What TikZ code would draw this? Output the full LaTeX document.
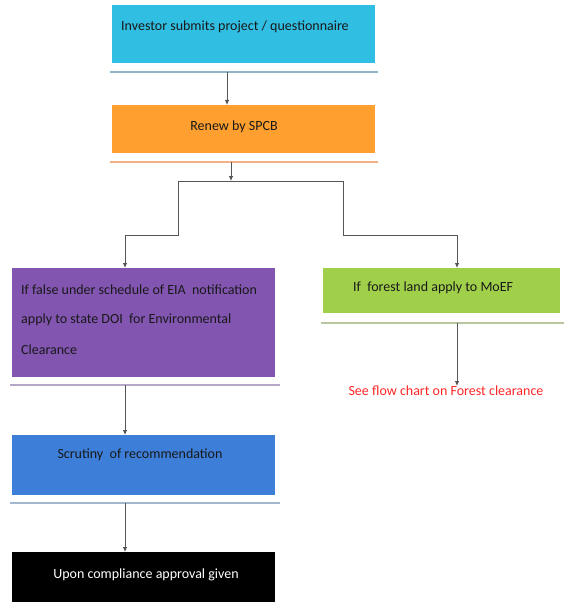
\documentclass[tikz,border=0pt]{standalone}
\usepackage{fontspec}
\setmainfont{Carlito}
\usetikzlibrary{arrows.meta}
\definecolor{ccyan}{HTML}{31BEE3}
\definecolor{corange}{HTML}{FF9F2F}
\definecolor{cpurple}{HTML}{8255B0}
\definecolor{cgreen}{HTML}{A0D04A}
\definecolor{cblue}{HTML}{3D7FD8}
\definecolor{ucyan}{HTML}{8FB4C6}
\definecolor{uorange}{HTML}{F4B184}
\definecolor{upurple}{HTML}{B4A7C8}
\definecolor{ugreen}{HTML}{B8C7A0}
\definecolor{ublue}{HTML}{A3B7CF}
\definecolor{cred}{HTML}{FF2626}
\definecolor{cline}{HTML}{555555}
\tikzset{
  box/.style={rectangle, inner sep=0pt, outer sep=0pt, draw=none},
  txt/.style={font=\fontsize{14}{16}\selectfont, inner sep=0pt, text=black!90},
  uline/.style={line width=2.5pt},
  conn/.style={draw=cline, line width=0.8pt},
  arr/.style={conn, -{Latex[length=5pt,width=4.5pt]}}
}
\begin{document}
\begin{tikzpicture}[x=1pt,y=-1pt]
\useasboundingbox (0,0) rectangle (564,607);
% boxes
\fill[ccyan] (112,5) rectangle (375,63);
\node[box, minimum width=263pt, minimum height=58pt] (b1) at (243.5,34) {};
\node[txt, anchor=west] (t1) at (121,27) {Investor submits project / questionnaire};
\draw[uline, ucyan] (110,72) -- (378,72);
\coordinate (u1) at (227,72);

\fill[corange] (112,105) rectangle (375,153);
\node[box, minimum width=263pt, minimum height=48pt] (b2) at (243.5,129) {};
\node[txt] (t2) at (234,127) {Renew by SPCB};
\draw[uline, uorange] (110,162) -- (378,162);
\coordinate (u2) at (231,162);

\coordinate (h) at (231,181);
\coordinate (hl) at (178,181);
\coordinate (hr) at (343,181);

\fill[cpurple] (12,268) rectangle (275,377);
\node[box, minimum width=263pt, minimum height=109pt] (b3) at (143.5,322.5) {};
\node[txt, anchor=west] (t3a) at (21,290) {If false under schedule of EIA\ \ notification};
\node[txt, anchor=west] (t3b) at (21,320) {apply to state DOI\ \ for Environmental};
\node[txt, anchor=west] (t3c) at (21,350) {Clearance};
\draw[uline, upurple] (10,385) -- (280,385);
\coordinate (u3) at (125,385);

\fill[cgreen] (323,268) rectangle (560,313);
\node[box, minimum width=237pt, minimum height=45pt] (b4) at (441.5,290.5) {};
\node[txt, anchor=west] (t4) at (353,288) {If\ \ forest land apply to MoEF};
\draw[uline, ugreen] (321,323) -- (564,323);
\coordinate (u4) at (457,323);

\node[txt, text=cred, anchor=north] (red) at (446,386) {See flow chart on Forest clearance};

\fill[cblue] (12,435) rectangle (275,495);
\node[box, minimum width=263pt, minimum height=60pt] (b5) at (143.5,465) {};
\node[txt] (t5) at (140,455) {Scrutiny\ \ of recommendation};
\draw[uline, ublue] (10,503) -- (280,503);
\coordinate (u5) at (125,503);

\fill[black] (12,552) rectangle (275,602);
\node[box, minimum width=263pt, minimum height=50pt] (b6) at (143.5,577) {};
\node[txt, text=white] (t6) at (146,575) {Upon compliance approval given};

% connectors
\draw[arr] (u1) -- (u1 |- b2.north);
\draw[arr] (u2) -- (h);
\draw[conn] (hl) -- (hr);
\draw[arr] (hl) -- (178,235) -- (125,235) -- (125,268 |- b3.north);
\draw[arr] (hr) -- (343,235) -- (457,235) -- (457,268 |- b4.north);
\draw[arr] (u4) -- (u4 |- red.north);
\draw[arr] (u3) -- (u3 |- b5.north);
\draw[arr] (u5) -- (u5 |- b6.north);
\end{tikzpicture}
\end{document}
